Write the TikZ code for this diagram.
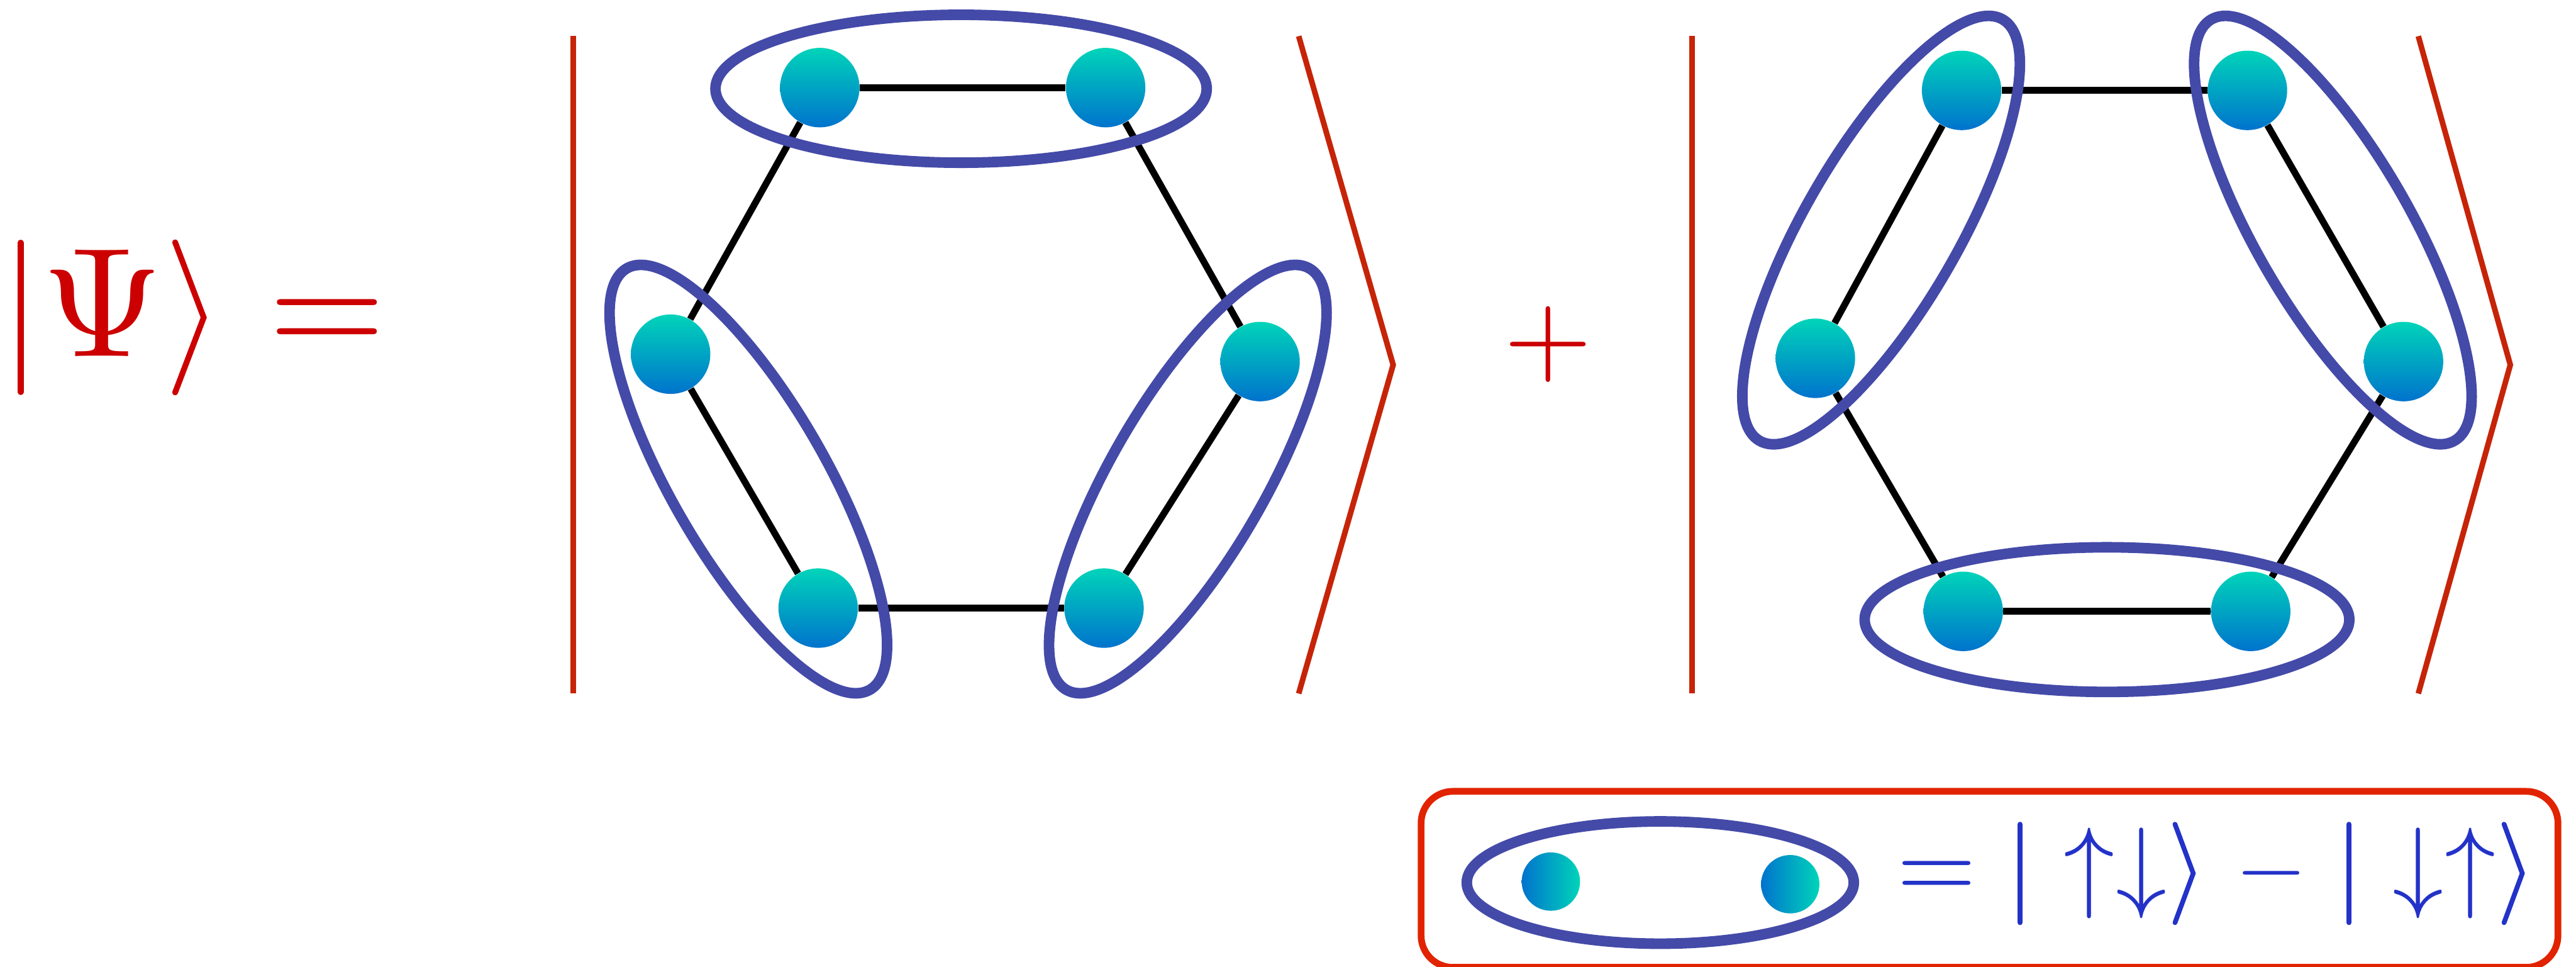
\documentclass[tikz,border=0pt]{standalone}
\definecolor{ketred}{RGB}{204,0,0}
\definecolor{brred}{RGB}{198,36,8}
\definecolor{boxred}{RGB}{225,35,0}
\definecolor{ringblue}{RGB}{68,74,168}
\definecolor{dotteal}{RGB}{0,212,185}
\definecolor{dotblue}{RGB}{0,115,205}
\definecolor{legblue}{RGB}{35,50,200}
\tikzset{
  site/.style={circle, minimum size=1.45cm, inner sep=0pt, top color=dotteal, bottom color=dotblue, draw=none},
  ldot/.style={circle, minimum size=1.065cm, inner sep=0pt, left color=dotblue, right color=dotteal, draw=none},
  bond/.style={line width=3.5pt, black},
  ring/.style={draw=ringblue, line width=5.5pt},
  bra/.style={draw=brred, line width=2.9pt},
  ketline/.style={draw=ketred, line width=3pt, line cap=round, line join=miter},
  legline/.style={draw=legblue, line width=2.5pt, line cap=round},
  sym/.style={inner sep=0pt, outer sep=0pt},
}
\begin{document}
\begin{tikzpicture}[x=0.03cm,y=-0.03cm]
\useasboundingbox (0,0) rectangle (1568,588);

% left ket |Psi> =
\draw[ketline] (12.6,147.6) -- (12.6,238.6);
\draw[ketline] (106.6,147.4) -- (124,193.2) -- (106.6,238.8);
\node[sym, text=ketred, scale=8.1] (psi) at (62.4,184.4) {$\Psi$};
\node[sym, text=ketred, scale=7.8, anchor=base] (eq1) at (199,215.8) {$=$};

% big ket brackets
\draw[bra] (349,22) -- (349,422);
\draw[bra] (790.5,22) -- (848,222) -- (790.5,422);
\draw[bra] (1030,22) -- (1030,422);
\draw[bra] (1472,22) -- (1528,222) -- (1472,422);
\node[sym, text=ketred, scale=5.9] (plus) at (942.5,209.4) {$+$};

% hexagon 1
\node[site] (a1) at (499,53.3) {};
\node[site] (a2) at (673,53.3) {};
\node[site] (a3) at (767,220) {};
\node[site] (a4) at (672,370) {};
\node[site] (a5) at (498,370) {};
\node[site] (a6) at (408.2,215.5) {};
\draw[bond] (a1) -- (a2);
\draw[bond] (a2) -- (a3);
\draw[bond] (a3) -- (a4);
\draw[bond] (a4) -- (a5);
\draw[bond] (a5) -- (a6);
\draw[bond] (a6) -- (a1);

% hexagon 2
\node[site] (b1) at (1194,55) {};
\node[site] (b2) at (1368,55) {};
\node[site] (b3) at (1463,220) {};
\node[site] (b4) at (1370,372) {};
\node[site] (b5) at (1195,372) {};
\node[site] (b6) at (1105,218) {};
\draw[bond] (b1) -- (b2);
\draw[bond] (b2) -- (b3);
\draw[bond] (b3) -- (b4);
\draw[bond] (b4) -- (b5);
\draw[bond] (b5) -- (b6);
\draw[bond] (b6) -- (b1);

% singlet rings, hexagon 1
\draw[ring] (585,54) ellipse [x radius=149.5, y radius=45];
\draw[ring, rotate around={-60:(455.5,291.5)}] (455.5,291.5) ellipse [x radius=148, y radius=47];
\draw[ring, rotate around={60:(723,291.5)}] (723,291.5) ellipse [x radius=148, y radius=47];

% singlet rings, hexagon 2
\draw[ring, rotate around={60:(1145,140)}] (1145,140) ellipse [x radius=148, y radius=47];
\draw[ring, rotate around={-60:(1420,140)}] (1420,140) ellipse [x radius=148, y radius=47];
\draw[ring] (1282.5,377) ellipse [x radius=147.5, y radius=44];

% legend
\draw[boxred, line width=3.5pt, rounded corners=0.58cm] (865,481.5) rectangle (1557,588.6);
\node[ldot] (l1) at (944,536.4) {};
\node[ldot] (l2) at (1089.7,538) {};
\draw[ring] (1010.6,537) ellipse [x radius=117.8, y radius=37.2];
\node[sym, text=legblue, scale=5.3, anchor=base] (eq2) at (1179,547) {$=$};
\draw[legline] (1229.6,501.5) -- (1229.6,561.4);
\node[sym, text=legblue, scale=5.3] (u1) at (1271.6,531.4) {$\uparrow$};
\node[sym, text=legblue, scale=5.3] (d1) at (1303.4,531.4) {$\downarrow$};
\draw[legline, line join=miter] (1323.9,501.5) -- (1335,531.4) -- (1323.9,561.4);
\node[sym, text=legblue, scale=4.8, anchor=base] (mi) at (1382.4,545.5) {$-$};
\draw[legline] (1429.8,501.5) -- (1429.8,561.4);
\node[sym, text=legblue, scale=5.3] (d2) at (1472,531.4) {$\downarrow$};
\node[sym, text=legblue, scale=5.3] (u2) at (1503.6,531.4) {$\uparrow$};
\draw[legline, line join=miter] (1524.2,501.5) -- (1535.3,531.4) -- (1524.2,561.4);
\end{tikzpicture}
\end{document}
